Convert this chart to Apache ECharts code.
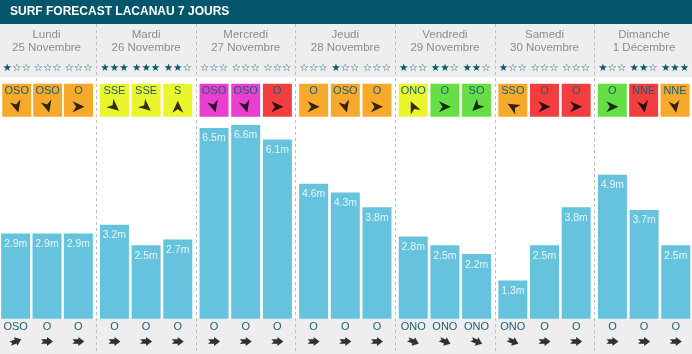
<!DOCTYPE html>
<html>
<head>
<meta charset="utf-8">
<script src="https://cdn.jsdelivr.net/npm/echarts@6/dist/echarts.min.js"></script>
<style>
  body { margin: 0; }
  #chart { width: 692px; height: 354px; }
</style>
</head>
<body>
<div id="chart"></div>
<script>
// one entry per day
const days = ["Lundi", "Mardi", "Mercredi", "Jeudi", "Vendredi", "Samedi", "Dimanche"];
const dates = ["25 Novembre", "26 Novembre", "27 Novembre", "28 Novembre", "29 Novembre", "30 Novembre", "1 Décembre"];

// three slots per day
const stars = [1, 0, 0, 3, 3, 2, 0, 0, 0, 0, 1, 0, 1, 2, 2, 1, 0, 0, 1, 2, 3];
const windDir = ["OSO", "OSO", "O", "SSE", "SSE", "S", "OSO", "OSO", "O", "O", "OSO", "O",
  "ONO", "O", "SO", "SSO", "O", "O", "O", "NNE", "NNE"];
// 0 green, 1 yellow, 2 orange, 3 red, 4 magenta
const windForce = [2, 2, 2, 1, 1, 1, 4, 4, 3, 2, 2, 2, 1, 0, 0, 2, 3, 3, 0, 3, 2];
const swellHeight = [2.9, 2.9, 2.9, 3.2, 2.5, 2.7, 6.5, 6.6, 6.1, 4.6, 4.3, 3.8,
  2.8, 2.5, 2.2, 1.3, 2.5, 3.8, 4.9, 3.7, 2.5];
const swellDir = ["OSO", "O", "O", "O", "O", "O", "O", "O", "O", "O", "O", "O",
  "ONO", "ONO", "ONO", "ONO", "O", "O", "O", "O", "O"];

const forceColors = ["#66df47", "#ebf52d", "#f6a92a", "#f23e3e", "#e93fd0"];
// arrow rotation of the wind icons as drawn on the site
const windArrowRot = { O: 0, OSO: -75, SSE: -40, S: 90, ONO: 115, SO: -135, SSO: 150, NNE: -80 };
const compass = { O: 270, OSO: 247.5, ONO: 292.5 };

const navArrow = "path://M0,0 L10,5 L0,10 L3,5 Z";
const fatArrow = "path://M0,2.5 L2,5 L0,7.5 L5,7.5 L5,10 L10,5 L5,0 L5,2.5 Z";

const font = "Liberation Sans";
const colW = 99.6;
const chart = echarts.init(document.getElementById("chart"));

const grid = [], xAxis = [], yAxis = [], series = [];
const graphic = [
  { type: "rect", shape: { x: 0, y: 0, width: 692, height: 24 }, style: { fill: "#03566b" } },
  { type: "rect", shape: { x: 0, y: 24, width: 692, height: 53 }, style: { fill: "#eeeeee" } },
  { type: "rect", shape: { x: 0, y: 318.7, width: 692, height: 36 }, style: { fill: "#eeeeee" } },
  {
    type: "text", x: 10, y: 12,
    style: { text: "SURF FORECAST LACANAU 7 JOURS", fill: "#fff", font: "bold 12px " + font, verticalAlign: "middle" }
  }
];

function starLabel(n) {
  let s = "";
  if (n > 0) s += "{f|" + "★".repeat(n) + "}";
  if (n < 3) s += "{e|" + "☆".repeat(3 - n) + "}";
  return s;
}

days.forEach((day, d) => {
  const left = -1 + colW * d;
  const idx = [0, 1, 2].map((k) => d * 3 + k);
  const g = grid.length;

  // wind boxes
  grid.push({ left: left, width: 95, top: 83.7, height: 33 });
  // swell bars
  grid.push({ left: left, width: 95, top: 113.2, height: 205.5 });
  // swell arrows
  grid.push({ left: left, width: 95, top: 336, height: 11 });

  xAxis.push({
    gridIndex: g, type: "category", position: "top", data: ["0", "1", "2"],
    axisLine: { show: false }, axisTick: { show: false },
    axisLabel: {
      interval: 0, margin: 10, formatter: (v, i) => starLabel(stars[d * 3 + i]),
      rich: {
        f: { color: "#0c5a70", fontSize: 10.5, fontFamily: "DejaVu Sans" },
        e: { color: "#0c5a70", fontSize: 10.5, fontFamily: "DejaVu Sans" }
      }
    }
  });
  xAxis.push({
    gridIndex: g + 1, type: "category", data: ["0", "1", "2"],
    axisLine: { show: false }, axisTick: { show: false },
    axisLabel: {
      interval: 0, margin: 3, color: "#1e5d73", fontSize: 11, fontFamily: font,
      formatter: (v, i) => swellDir[d * 3 + i]
    }
  });
  xAxis.push({ gridIndex: g + 2, type: "category", data: ["0", "1", "2"], show: false });
  yAxis.push({ gridIndex: g, min: 0, max: 1, show: false });
  yAxis.push({ gridIndex: g + 1, min: 0, max: 7, show: false });
  yAxis.push({ gridIndex: g + 2, min: 0, max: 1, show: false });

  series.push({
    type: "bar", xAxisIndex: g, yAxisIndex: g, barWidth: 29,
    data: idx.map((i) => ({ value: 1, itemStyle: { color: forceColors[windForce[i]] } })),
    label: {
      show: true, position: "insideTop", distance: 2, color: "#1b5d75",
      fontSize: 11, fontFamily: font, formatter: (p) => windDir[idx[p.dataIndex]]
    }
  });
  series.push({
    type: "scatter", xAxisIndex: g, yAxisIndex: g, symbol: navArrow, symbolSize: [12, 11],
    itemStyle: { color: "#000" },
    data: idx.map((i, k) => ({ value: [k, 0.3], symbolRotate: windArrowRot[windDir[i]] }))
  });
  series.push({
    type: "bar", xAxisIndex: g + 1, yAxisIndex: g + 1, barWidth: 29,
    itemStyle: { color: "#65c3de" },
    data: idx.map((i) => swellHeight[i]),
    label: {
      show: true, position: "insideTop", distance: 5, color: "#eaf6fa",
      fontSize: 10.5, fontFamily: font, formatter: "{c}m"
    }
  });
  series.push({
    type: "scatter", xAxisIndex: g + 2, yAxisIndex: g + 2, symbol: fatArrow, symbolSize: [12, 9],
    itemStyle: { color: "#000" },
    data: idx.map((i, k) => ({ value: [k, 0.5], symbolRotate: 90 - ((compass[swellDir[i]] + 180) % 360) }))
  });

  // day header
  const cx = left + 47.5;
  graphic.push({
    type: "text", x: cx, y: 35,
    style: { text: day, fill: "#8c8c8c", font: "11.5px " + font, align: "center", verticalAlign: "middle" }
  });
  graphic.push({
    type: "text", x: cx, y: 48,
    style: { text: dates[d], fill: "#8c8c8c", font: "11.5px " + font, align: "center", verticalAlign: "middle" }
  });
  if (d > 0) {
    const sx = Math.round(left - 2.3) + 0.5;
    graphic.push({
      type: "line", shape: { x1: sx, y1: 24, x2: sx, y2: 354 },
      style: { stroke: "#bdbdbd", lineWidth: 1, lineDash: [3, 3] }
    });
  }
});

chart.setOption({
  animation: false,
  backgroundColor: "#fff",
  graphic: graphic,
  grid: grid,
  xAxis: xAxis,
  yAxis: yAxis,
  series: series
});
</script>
</body>
</html>
